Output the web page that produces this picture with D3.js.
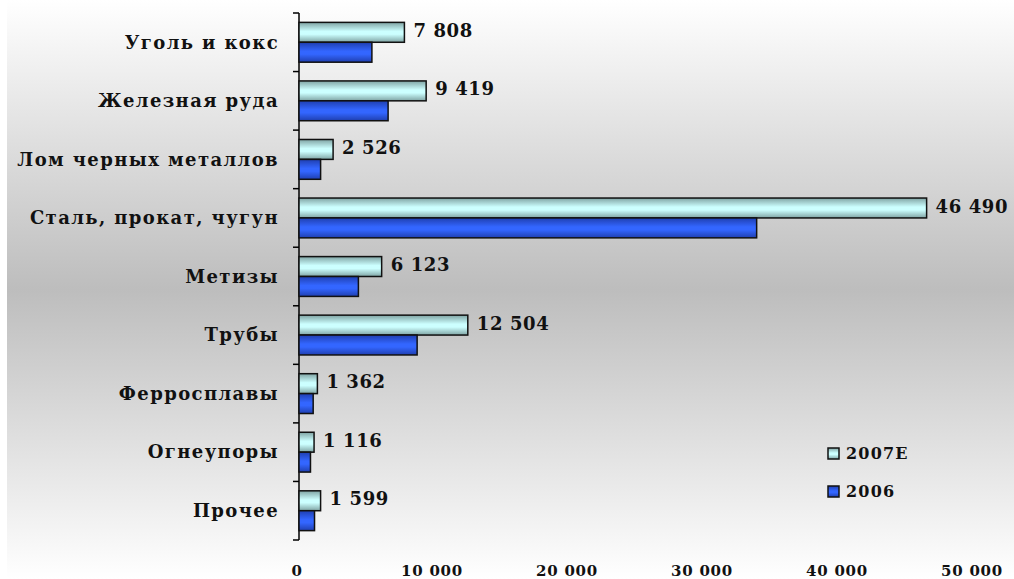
<!DOCTYPE html>
<html>
<head>
<meta charset="utf-8">
<script src="https://cdn.jsdelivr.net/npm/d3@7/dist/d3.min.js"></script>
<style>
  html, body { margin: 0; padding: 0; background: #fff; }
  svg { display: block; }
  text { font-family: "DejaVu Serif", "Liberation Serif", serif; font-weight: bold; fill: #111; }
</style>
</head>
<body>
<svg id="chart" width="1014" height="579"></svg>
<script>
// Categories, top to bottom
const categories = [
  "Уголь и кокс",
  "Железная руда",
  "Лом черных металлов",
  "Сталь, прокат, чугун",
  "Метизы",
  "Трубы",
  "Ферросплавы",
  "Огнеупоры",
  "Прочее"
];
const seriesNames = ["2007E", "2006"];
const values2007E = [7808, 9419, 2526, 46490, 6123, 12504, 1362, 1116, 1599];
const values2006  = [5400, 6600, 1600, 33900, 4400, 8750, 1050, 850, 1150];
const xTicks = [0, 10000, 20000, 30000, 40000, 50000];

const svg = d3.select("#chart");
const W = 1014, H = 579;
const margin = { left: 299, right: 40, top: 13, bottom: 39 };

const defs = svg.append("defs");

// Background panel: light at top and bottom, grey in the middle
const bg = defs.append("linearGradient").attr("id", "bgGrad")
  .attr("x1", 0).attr("y1", 0).attr("x2", 0).attr("y2", 1);
bg.append("stop").attr("offset", "0%").attr("stop-color", "#ffffff");
bg.append("stop").attr("offset", "50%").attr("stop-color", "#bdbdbd");
bg.append("stop").attr("offset", "100%").attr("stop-color", "#ffffff");

// Bar fills with a shaded cylindrical look
const g1 = defs.append("linearGradient").attr("id", "fill2007")
  .attr("x1", 0).attr("y1", 0).attr("x2", 0).attr("y2", 1);
g1.append("stop").attr("offset", "0%").attr("stop-color", "#7fa3a3");
g1.append("stop").attr("offset", "45%").attr("stop-color", "#ccffff");
g1.append("stop").attr("offset", "60%").attr("stop-color", "#ccffff");
g1.append("stop").attr("offset", "100%").attr("stop-color", "#7fa3a3");

const g2 = defs.append("linearGradient").attr("id", "fill2006")
  .attr("x1", 0).attr("y1", 0).attr("x2", 0).attr("y2", 1);
g2.append("stop").attr("offset", "0%").attr("stop-color", "#1f3fb0");
g2.append("stop").attr("offset", "45%").attr("stop-color", "#3366ff");
g2.append("stop").attr("offset", "60%").attr("stop-color", "#3366ff");
g2.append("stop").attr("offset", "100%").attr("stop-color", "#1f3fb0");

svg.append("rect").attr("x", 7).attr("y", 0).attr("width", W - 7).attr("height", H)
  .attr("fill", "url(#bgGrad)");

const x = d3.scaleLinear().domain([0, 50000]).range([margin.left, 974]);
const y = d3.scaleBand().domain(categories).range([margin.top, H - margin.bottom]).paddingInner(0.32).paddingOuter(0.16);
const ySub = d3.scaleBand().domain(seriesNames).range([0, y.bandwidth()]);

const fmt = v => d3.format(",")(v).replace(/,/g, " ");

// Category axis (left) with outward ticks at category boundaries
const yLine = svg.append("g");
yLine.append("line")
  .attr("x1", x(0)).attr("x2", x(0))
  .attr("y1", margin.top).attr("y2", H - margin.bottom)
  .attr("stroke", "#000").attr("stroke-width", 1.5);
const bounds = d3.range(categories.length + 1).map(i => margin.top + i * (H - margin.bottom - margin.top) / categories.length);
yLine.selectAll("line.tick").data(bounds).join("line")
  .attr("class", "tick")
  .attr("x1", x(0) - 6).attr("x2", x(0))
  .attr("y1", d => d).attr("y2", d => d)
  .attr("stroke", "#000").attr("stroke-width", 1.5);

svg.append("g").selectAll("text").data(categories).join("text")
  .attr("x", 279)
  .attr("y", d => y(d) + y.bandwidth() / 2)
  .attr("dy", "0.35em")
  .attr("text-anchor", "end")
  .attr("font-size", 18)
  .attr("letter-spacing", 1.4)
  .text(d => d);

// Bars
const rows = categories.map((c, i) => ({ c, vals: [values2007E[i], values2006[i]] }));
const grp = svg.append("g").selectAll("g").data(rows).join("g")
  .attr("transform", d => `translate(0,${y(d.c)})`);

grp.selectAll("rect").data(d => d.vals.map((v, j) => ({ v, s: seriesNames[j] }))).join("rect")
  .attr("x", x(0))
  .attr("y", d => ySub(d.s))
  .attr("width", d => x(d.v) - x(0))
  .attr("height", ySub.bandwidth())
  .attr("fill", d => d.s === "2007E" ? "url(#fill2007)" : "url(#fill2006)")
  .attr("stroke", "#111").attr("stroke-width", 1.5);

// Value labels for 2007E
grp.append("text")
  .attr("x", d => x(d.vals[0]) + 9)
  .attr("y", d => ySub("2007E") + ySub.bandwidth() / 2)
  .attr("dy", "0.25em")
  .attr("font-size", 18)
  .attr("letter-spacing", 0.6)
  .text(d => fmt(d.vals[0]));

// Value axis labels (no axis line)
svg.append("g").selectAll("text").data(xTicks).join("text")
  .attr("x", d => x(d) - 2)
  .attr("y", 576)
  .attr("text-anchor", "middle")
  .attr("font-size", 15)
  .attr("letter-spacing", 0.8)
  .text(d => fmt(d));

// Legend
const legend = svg.append("g").attr("transform", "translate(828,448)");
seriesNames.forEach((s, i) => {
  const lg = legend.append("g").attr("transform", `translate(0,${i * 38})`);
  lg.append("rect").attr("x", 0).attr("y", 0).attr("width", 11).attr("height", 11)
    .attr("fill", s === "2007E" ? "url(#fill2007)" : "url(#fill2006)")
    .attr("stroke", "#111").attr("stroke-width", 1.5);
  lg.append("text").attr("x", 18).attr("y", 11)
    .attr("font-size", 16).attr("letter-spacing", 1.2)
    .text(s);
});
</script>
</body>
</html>
